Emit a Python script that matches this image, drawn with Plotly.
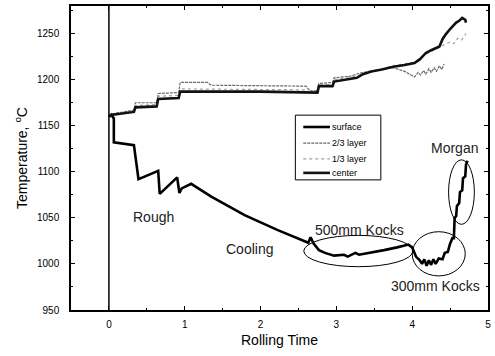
import plotly.graph_objects as go

# ---- data ----
t_surface = [0, 0.03, 0.065, 0.065, 0.33, 0.39, 0.65, 0.67, 0.9, 0.93, 0.96, 1.085, 1.35, 1.79, 2.22, 2.48,
             2.6, 2.63, 2.66, 2.70, 2.77, 2.85, 2.97, 3.1, 3.15, 3.25, 3.3, 3.45, 3.55, 3.63, 3.8, 3.95,
             4.0, 4.05, 4.1, 4.13, 4.16, 4.19, 4.22, 4.25, 4.28, 4.31, 4.35, 4.4, 4.43, 4.47, 4.5, 4.53,
             4.55, 4.56, 4.58, 4.59, 4.62, 4.63, 4.66, 4.67, 4.70, 4.71, 4.73]
temp_surface = [1160, 1162, 1158, 1132, 1129, 1092, 1101, 1076, 1094, 1077, 1082, 1087, 1073, 1053, 1037, 1028,
                1024, 1023, 1029, 1022, 1015, 1012, 1009, 1010, 1008, 1012, 1010, 1012, 1014, 1015, 1018, 1021,
                1018, 1008, 1004, 1000, 1005, 998, 1004, 999, 1005, 1000, 1006, 1005, 1012, 1013, 1022, 1028,
                1028, 1050, 1052, 1063, 1066, 1078, 1080, 1093, 1095, 1108, 1112]

t_23 = [0, 0.05, 0.33, 0.35, 0.63, 0.65, 0.92, 0.94, 1.3, 1.35, 2.6, 2.65, 2.75, 2.77, 2.95, 2.97, 3.2, 3.3,
        3.5, 3.75, 3.9, 4.03, 4.08, 4.11, 4.15, 4.18, 4.22, 4.25, 4.29, 4.32, 4.36, 4.39, 4.42]
temp_23 = [1160, 1163, 1167, 1175, 1175, 1185, 1186, 1197, 1197, 1194, 1193, 1188, 1188, 1196, 1197, 1202, 1204, 1207,
           1210, 1213, 1209, 1203, 1208, 1205, 1210, 1206, 1212, 1208, 1213, 1209, 1215, 1211, 1217]

t_13 = [0, 0.05, 0.33, 0.35, 0.63, 0.65, 0.92, 0.94, 2.6, 2.65, 2.75, 2.77, 2.95, 2.97, 3.3, 3.75, 4.03, 4.18,
        4.36, 4.42, 4.5, 4.55, 4.6, 4.65, 4.71]
temp_13 = [1160, 1162, 1166, 1172, 1173, 1182, 1183, 1190, 1189, 1186, 1187, 1194, 1195, 1200, 1205, 1215, 1219, 1228,
           1235, 1238, 1241, 1239, 1245, 1243, 1250]

t_center = [0, 0.05, 0.33, 0.35, 0.63, 0.65, 0.92, 0.94, 2.0, 2.6, 2.75, 2.77, 2.95, 2.97, 3.05, 3.1, 3.27, 3.35,
            3.46, 3.6, 3.75, 3.9, 4.03, 4.1, 4.18, 4.25, 4.36, 4.4, 4.44, 4.5, 4.58, 4.62, 4.66, 4.7, 4.71]
temp_center = [1160, 1162, 1165, 1170, 1171, 1179, 1180, 1187, 1187, 1186, 1186, 1193, 1193, 1198, 1199, 1200, 1202, 1206,
               1209, 1211, 1214, 1216, 1218, 1222, 1229, 1232, 1236, 1244, 1249, 1255, 1262, 1264, 1267, 1265, 1262]

series_names = ["surface", "2/3 layer", "1/3 layer", "center"]
x_ticks = [0, 1, 2, 3, 4, 5]
y_ticks = [950, 1000, 1050, 1100, 1150, 1200, 1250]

# annotation labels: (text, x, y)
labels = [("Rough", 0.59, 1051), ("Cooling", 1.85, 1016), ("500mm Kocks", 3.31, 1037),
          ("300mm Kocks", 4.31, 976), ("Morgan", 4.56, 1126)]
# ellipses: (x center, y center, half-width, half-height)
ellipses = [(3.29, 1014, 0.72, 17), (4.35, 1011, 0.35, 24), (4.65, 1078, 0.17, 35)]

FONT = "Liberation Sans, Arial"
styles = [dict(color="black", width=2.6),
          dict(color="#6a6a6a", width=1.2, dash="3px,1px"),
          dict(color="#a0a0a0", width=1.2, dash="dot"),
          dict(color="#111111", width=2.6)]

fig = go.Figure()
for name, xs, ys, st in zip(series_names, [t_surface, t_23, t_13, t_center],
                            [temp_surface, temp_23, temp_13, temp_center], styles):
    fig.add_trace(go.Scatter(x=xs, y=ys, name=name, mode="lines", line=st, showlegend=False))

for (txt, x, y) in labels:
    fig.add_annotation(x=x, y=y, text=txt, showarrow=False,
                       font=dict(family=FONT, size=14, color="#222"))

for (cx, cy, hw, hh) in ellipses:
    fig.add_shape(type="circle", xref="x", yref="y", x0=cx - hw, x1=cx + hw, y0=cy - hh, y1=cy + hh,
                  line=dict(color="black", width=1))

fig.add_shape(type="line", xref="x", yref="paper", x0=0, x1=0, y0=0, y1=1,
              line=dict(color="black", width=1.5))

# manual legend (paper coords)
fig.add_shape(type="rect", xref="paper", yref="paper", x0=0.538, x1=0.743, y0=0.428, y1=0.641,
              line=dict(color="black", width=1), fillcolor="white", layer="above")
leg_y = [0.602, 0.549, 0.497, 0.451]
for name, st, yy in zip(series_names, styles, leg_y):
    fig.add_shape(type="line", xref="paper", yref="paper", x0=0.557, x1=0.621, y0=yy, y1=yy,
                  line=st, layer="above")
    fig.add_annotation(xref="paper", yref="paper", x=0.622, y=yy, text=name, showarrow=False,
                       xanchor="left", yanchor="middle", font=dict(family=FONT, size=9, color="black"))

axis_common = dict(showgrid=False, zeroline=False, showline=True, linecolor="black", linewidth=1.5,
                   mirror="ticks", ticks="inside", ticklen=4, tickcolor="black",
                   tickfont=dict(family=FONT, size=10, color="black"))

fig.update_xaxes(range=[-0.5, 5], tickvals=x_ticks, ticklabelstandoff=4,
                 title=dict(text="Rolling Time", standoff=6, font=dict(family=FONT, size=14, color="black")),
                 minor=dict(ticks="inside", ticklen=2, dtick=0.5, tickcolor="black"), **axis_common)
fig.update_yaxes(range=[950, 1280], tickvals=y_ticks, ticklabelstandoff=8,
                 title=dict(text="Temperature, <sup>o</sup>C", standoff=6,
                            font=dict(family=FONT, size=14, color="black")),
                 minor=dict(ticks="inside", ticklen=2, dtick=25, tickcolor="black"), **axis_common)

fig.update_layout(
    width=495, height=356,
    margin=dict(l=71, r=4, t=6, b=46),
    plot_bgcolor="white", paper_bgcolor="white",
    showlegend=False,
)

fig.write_html("out.html", config={"displayModeBar": False},
               post_script="document.body.style.margin='0';")
